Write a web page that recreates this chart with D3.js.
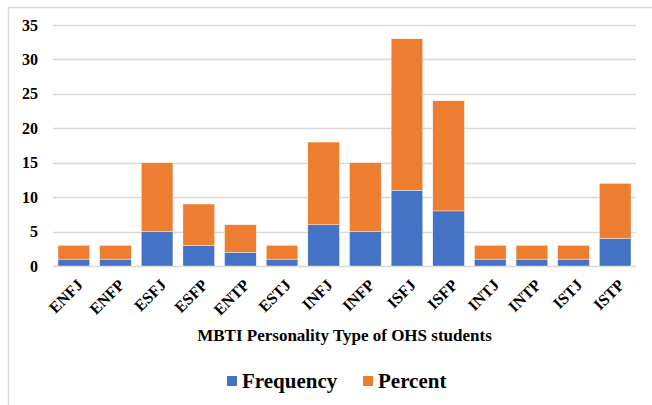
<!DOCTYPE html>
<html><head><meta charset="utf-8">
<script src="https://cdn.jsdelivr.net/npm/d3@7"></script>
</head><body style="margin:0"><div id="chart"></div>
<script>
const categories = ["ENFJ","ENFP","ESFJ","ESFP","ENTP","ESTJ","INFJ","INFP","ISFJ","ISFP","INTJ","INTP","ISTJ","ISTP"];
const frequency = [1,1,5,3,2,1,6,5,11,8,1,1,1,4];
const percent = [2,2,10,6,4,2,12,10,22,16,2,2,2,8];
const seriesNames = ["Frequency","Percent"];
const seriesColors = ["#4472C4","#ED7D31"];
const yTicks = [0,5,10,15,20,25,30,35];
const xTitle = "MBTI Personality Type of OHS students";

const W = 652, H = 405;
const margin = {left:53, right:16, top:25, bottom:139};
const svg = d3.select("#chart").append("svg").attr("width",W).attr("height",H);

svg.append("path").attr("d",`M8.5,${H} V7.5 H${W}`).attr("fill","none").attr("stroke","#D9D9D9").attr("stroke-width",1.5);

const x = d3.scaleBand().domain(categories).range([margin.left, W-margin.right]).paddingInner(0.24).paddingOuter(0.12);
const y = d3.scaleLinear().domain([0,35]).range([H-margin.bottom, margin.top]);

svg.append("g").selectAll("line").data(yTicks).join("line")
  .attr("x1",margin.left).attr("x2",W-margin.right)
  .attr("y1",d=>Math.round(y(d))+0.5).attr("y2",d=>Math.round(y(d))+0.5)
  .attr("stroke","#D9D9D9").attr("stroke-width",1.5);

// y labels
svg.append("g").selectAll("text").data(yTicks).join("text")
  .attr("x",margin.left-15).attr("y",d=>y(d)).attr("dy","0.35em")
  .attr("text-anchor","end").attr("font-family","Liberation Serif").attr("font-weight","bold").attr("font-size",16)
  .text(d=>d);

const rows = categories.map((c,i)=>({cat:c, Frequency:frequency[i], Percent:percent[i]}));
const stack = d3.stack().keys(seriesNames)(rows);
svg.append("g").selectAll("g").data(stack).join("g")
  .attr("fill",(d,i)=>seriesColors[i])
  .selectAll("rect").data(d=>d).join("rect")
  .attr("x",d=>x(d.data.cat)).attr("width",x.bandwidth())
  .attr("y",d=>y(d[1])).attr("height",d=>y(d[0])-y(d[1]))
  .attr("stroke","#fff").attr("stroke-width",0.4);

// x labels
svg.append("g").selectAll("text").data(categories).join("text")
  .attr("transform",d=>`translate(${x(d)+x.bandwidth()/2+6},${H-margin.bottom+16}) rotate(-45)`)
  .attr("dy","0.35em")
  .attr("text-anchor","end").attr("font-family","Liberation Serif").attr("font-weight","bold").attr("font-size",16)
  .text(d=>d);

svg.append("text").attr("x",(margin.left+W-margin.right)/2).attr("y",341)
  .attr("text-anchor","middle").attr("font-family","Liberation Serif").attr("font-weight","bold").attr("font-size",17).text(xTitle);

const legX = [227, 363];
seriesNames.forEach((s,i)=>{
  svg.append("rect").attr("x",legX[i]).attr("y",376).attr("width",10).attr("height",10).attr("fill",seriesColors[i]);
  svg.append("text").attr("x",legX[i]+15).attr("y",388).attr("font-family","Liberation Serif").attr("font-weight","bold").attr("font-size",21).text(s);
});
</script></body></html>
